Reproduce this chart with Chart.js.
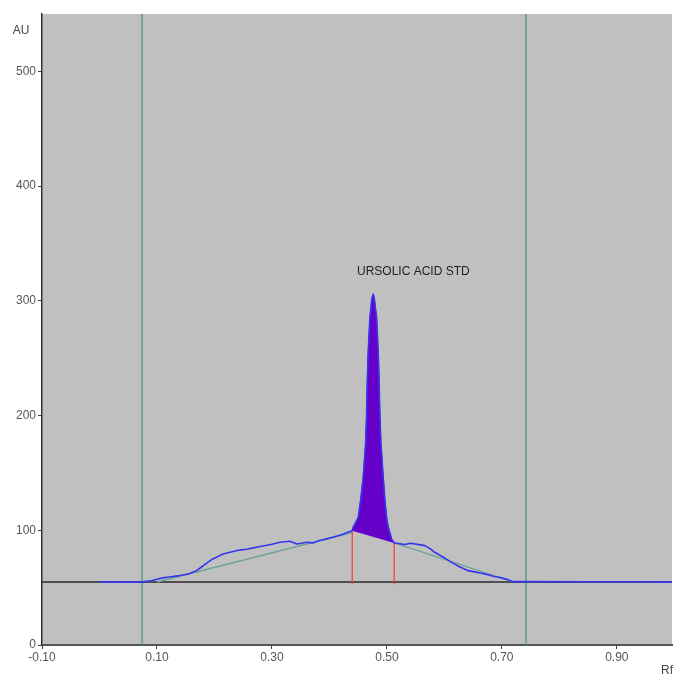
<!DOCTYPE html>
<html>
<head>
<meta charset="utf-8">
<script src="https://cdn.jsdelivr.net/npm/chart.js@4.4.1/dist/chart.umd.min.js"></script>
<style>
  html,body{margin:0;padding:0;background:#fff;}
  #wrap{width:675px;height:677px;position:relative;}
</style>
</head>
<body>
<div id="wrap"><canvas id="c"></canvas></div>
<script>
// ---- data ----
const xTicks = [-0.10, 0.10, 0.30, 0.50, 0.70, 0.90];
const yTicks = [0, 100, 200, 300, 400, 500];
const yLabel = "AU";
const xLabel = "Rf";
const peakLabel = "URSOLIC ACID STD";
const peakLabelPos = {x: 0.448, y: 325};

// densitogram track (Rf, AU)
const trackRf = [0.0,0.074,0.09,0.11,0.125,0.14,0.155,0.169,0.186,0.197,0.215,0.239,0.256,0.279,0.30,0.314,0.331,0.343,0.36,0.371,0.383,0.395,0.406,0.4235,0.4357,0.4397,0.4414,0.4501,0.4543,0.4588,0.463,0.4647,0.4657,0.4675,0.4704,0.474,0.4762,0.478,0.4821,0.4849,0.4866,0.4878,0.4896,0.4936,0.4965,0.4995,0.5023,0.5082,0.5127,0.52,0.531,0.54,0.55,0.566,0.575,0.583,0.60,0.6125,0.625,0.641,0.655,0.67,0.685,0.6995,0.71,0.7197,0.996];
const trackAU = [55,55,56,58.5,59.5,60.5,62,64.8,71.2,75,79.4,82.3,83.5,85.8,87.8,89.5,90.5,88,89.5,89,91,92.5,94,96.5,99,99.5,102.6,111,126,146,175.6,200,226,255,285,302,306,302,285,255,226,200,175.6,146,126,111,102.6,92.5,89,88.5,87.5,88.7,88,86.6,84,80.8,76,72,68.5,64.8,63.5,62,60,58.5,57,55.2,55];

// integrated peak boundaries
const peakStartRf = 0.4397, peakEndRf = 0.5127;
// baselines
const trackBaseRf = [0.10, 0.4397];
const trackBaseAU = [55, 98];
const trackBase2Rf = [0.5127, 0.7197];
const trackBase2AU = [89, 55];
const zeroLevel = 55;
// application / front markers
const markerRf = [0.074, 0.742];
const redLineBottom = 53;
const redLineTops = [99.5, 89];

// ---- derived point lists ----
const trackPts = trackRf.map((x,i)=>({x, y: trackAU[i]}));
const peakPts = trackPts.filter(p => p.x >= peakStartRf - 1e-9 && p.x <= peakEndRf + 1e-9);
const base1 = trackBaseRf.map((x,i)=>({x, y: trackBaseAU[i]}));
const base2 = trackBase2Rf.map((x,i)=>({x, y: trackBase2AU[i]}));
const zeroLine = [{x:-0.1, y:zeroLevel},{x:0.996, y:zeroLevel}];

const ds = [];
// blue track (top) - tiny tension disables the pixel-column fast path
ds.push({data: trackPts, borderColor:'#3535ee', borderWidth:1.6, borderJoinStyle:'round', pointRadius:0, fill:false, order:1, tension:0.0001});
// red integration lines
ds.push({data:[{x:peakStartRf,y:redLineBottom},{x:peakStartRf,y:redLineTops[0]}], borderColor:'#ff3838', borderWidth:1.2, pointRadius:0, order:2});
ds.push({data:[{x:peakEndRf,y:redLineBottom},{x:peakEndRf,y:redLineTops[1]}], borderColor:'#ff3838', borderWidth:1.2, pointRadius:0, order:2});
// purple peak fill
ds.push({data: peakPts, borderColor:'#6500c8', borderWidth:1, borderJoinStyle:'round', backgroundColor:'#6500c8', pointRadius:0, fill:'shape', order:3, tension:0.0001});
// teal baselines
ds.push({data: base1, borderColor:'#6fa39a', borderWidth:1.5, pointRadius:0, order:4});
ds.push({data: base2, borderColor:'#6fa39a', borderWidth:1.5, pointRadius:0, order:4});
// black zero line
ds.push({data: zeroLine, borderColor:'#2a2a2a', borderWidth:1.5, pointRadius:0, order:5});
// teal vertical markers
markerRf.forEach(r => ds.push({data:[{x:r,y:0},{x:r,y:550}], borderColor:'#4f9494', borderWidth:1.3, pointRadius:0, order:6}));

const bgPlugin = {
  id:'bg',
  beforeDraw(chart){
    const {ctx, chartArea:a} = chart;
    ctx.save();
    ctx.fillStyle = '#c0c0c0';
    ctx.fillRect(a.left, a.top, a.right-a.left, a.bottom-a.top);
    ctx.restore();
  }
};
const textPlugin = {
  id:'texts',
  afterDraw(chart){
    const {ctx, chartArea:a, scales} = chart;
    ctx.save();
    ctx.font = '12px "Liberation Sans", Arial, sans-serif';
    ctx.fillStyle = '#222';
    ctx.textBaseline = 'middle';
    ctx.textAlign = 'left';
    ctx.fillText(peakLabel, scales.x.getPixelForValue(peakLabelPos.x), scales.y.getPixelForValue(peakLabelPos.y));
    ctx.fillStyle = '#444';
    ctx.textAlign = 'center';
    ctx.fillText(yLabel, a.left - 21, a.top + 17);
    ctx.fillText(xLabel, a.right - 5, a.bottom + 26);
    ctx.restore();
  }
};

new Chart(document.getElementById('c'), {
  type:'line',
  data:{datasets: ds},
  options:{
    responsive:true, maintainAspectRatio:false, animation:false,
    layout:{padding:{top:14, right:3, left:0, bottom:0}},
    plugins:{legend:{display:false}, tooltip:{enabled:false}},
    scales:{
      x:{
        type:'linear', min:-0.1, max:0.996,
        afterBuildTicks(s){ s.ticks = xTicks.map(v=>({value:v})); },
        afterFit(s){ s.height = 32; },
        ticks:{color:'#555', font:{size:12, family:'"Liberation Sans", Arial, sans-serif'}, padding:1, maxRotation:0, autoSkip:false,
          callback:(v)=> Number(v).toFixed(2)},
        grid:{drawOnChartArea:false, drawTicks:true, tickLength:4, color:'#444'},
        border:{display:true, color:'#555', width:2}
      },
      y:{
        type:'linear', min:0, max:550,
        afterBuildTicks(s){ s.ticks = yTicks.map(v=>({value:v})); },
        afterFit(s){ s.width = 42; },
        ticks:{color:'#555', font:{size:12, family:'"Liberation Sans", Arial, sans-serif'}, padding:2, autoSkip:false},
        grid:{drawOnChartArea:false, drawTicks:true, tickLength:4, color:'#444'},
        border:{display:true, color:'#333', width:1.5}
      }
    }
  },
  plugins:[bgPlugin, textPlugin]
});
</script>
</body>
</html>
